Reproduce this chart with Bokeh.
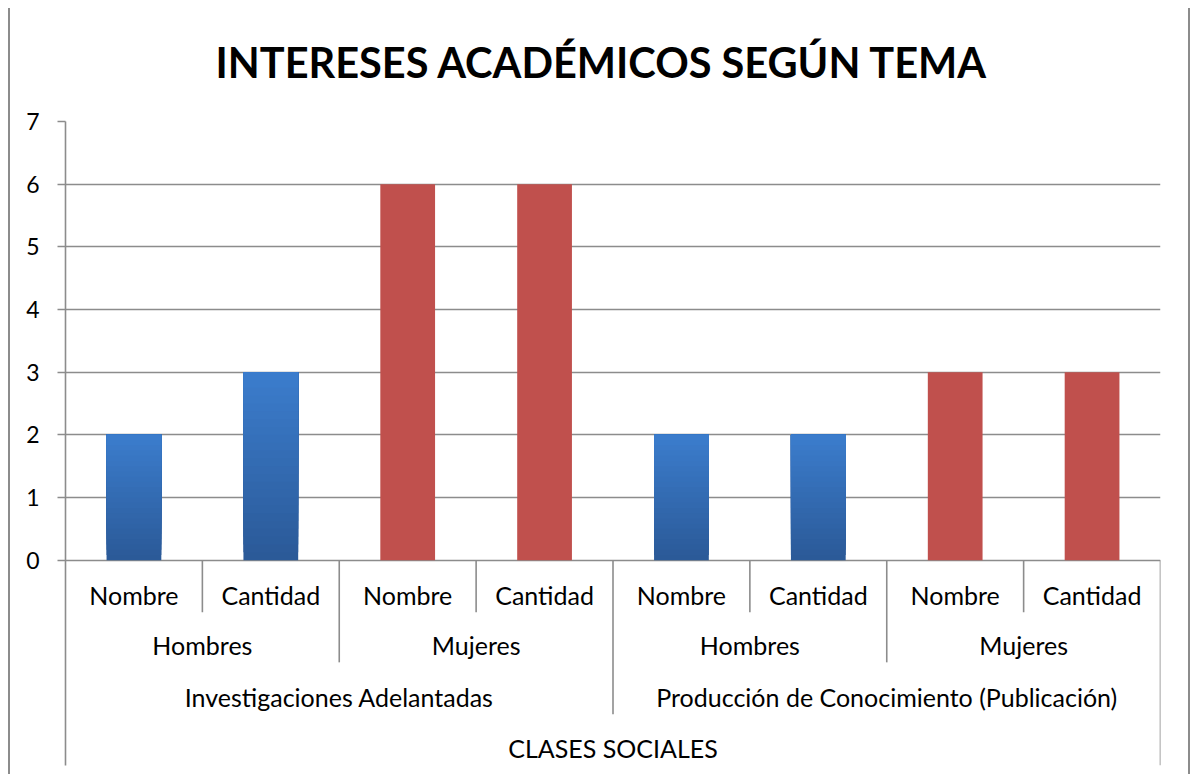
from bokeh.plotting import figure
from bokeh.models import FactorRange, Range1d, FixedTicker
from bokeh.core.properties import value
from bokeh.embed import file_html
from bokeh.resources import INLINE

# ---- data ----
title_text = "INTERESES ACADÉMICOS SEGÚN TEMA"
axis_title = "CLASES SOCIALES"
topics = ["Investigaciones Adelantadas", "Producción de Conocimiento (Publicación)"]
genders = ["Hombres", "Mujeres"]
fields = ["Nombre", "Cantidad"]
values = [2, 3, 6, 6, 2, 2, 3, 3]
y_ticks = [0, 1, 2, 3, 4, 5, 6, 7]

# ---- styles ----
FONT = "Lato"
GRID = "#8c8c8c"
RED = "#c0504d"
BLUE_TOP = (59, 124, 204)
BLUE_BOT = (43, 90, 152)
gender_color = {"Hombres": "blue", "Mujeres": RED}

factors = [(t, g, f) for t in topics for g in genders for f in fields]
n = len(factors)

x_range = FactorRange(factors=factors, factor_padding=0, subgroup_padding=0,
                      group_padding=0, range_padding=0)
y_bottom = -3.276
y_range = Range1d(y_bottom, 7.0)

W, H = 1178, 774
p = figure(x_range=x_range, y_range=y_range, width=W, height=H,
           output_backend="svg", toolbar_location=None,
           min_border_left=55, min_border_right=28, min_border_bottom=9,
           min_border_top=22)
# outer chart frame: a thin ring drawn just outside the chart box
p.styles = {"margin-left": "10px", "margin-top": "0px",
            "box-shadow": "0 10px 0 0 #ffffff, 0 10px 0 2px #8c8c8c"}
p.outline_line_color = None
p.background_fill_color = "white"
p.border_fill_color = "white"

# title
p.title.text = title_text
p.title.align = "left"
p.title.offset = 150
p.title.text_font = FONT
p.title.text_font_style = "bold"
p.title.text_font_size = "41.5px"
p.title.text_color = "black"
p.title.standoff = 69

# axes
p.xaxis.visible = False
p.xgrid.visible = False
yax = p.yaxis[0]
yax.ticker = FixedTicker(ticks=y_ticks)
yax.axis_line_color = GRID
yax.axis_line_width = 1.6
yax.major_tick_line_color = GRID
yax.major_tick_line_width = 1.6
yax.major_tick_out = 8
yax.major_tick_in = 0
yax.minor_tick_line_color = None
yax.major_label_text_font = FONT
yax.major_label_text_font_size = "23px"
yax.major_label_text_color = "black"
yax.major_label_standoff = 18
p.ygrid.ticker = FixedTicker(ticks=y_ticks)
p.ygrid.grid_line_color = GRID
p.ygrid.grid_line_width = 1.6

# bars
red_x = [f for f, v in zip(factors, values) if gender_color[f[1]] != "blue"]
red_v = [v for f, v in zip(factors, values) if gender_color[f[1]] != "blue"]
blue_x = [f for f, v in zip(factors, values) if gender_color[f[1]] == "blue"]
blue_v = [v for f, v in zip(factors, values) if gender_color[f[1]] == "blue"]

BAR_W = 0.40
p.vbar(x=red_x, top=red_v, bottom=0, width=BAR_W, fill_color=RED, line_color=None)

NSTEP = 24
for k in range(NSTEP):
    t = k / (NSTEP - 1)
    c = tuple(int(round(BLUE_BOT[i] + (BLUE_TOP[i] - BLUE_BOT[i]) * t)) for i in range(3))
    col = "#%02x%02x%02x" % c
    p.vbar(x=blue_x, top=blue_v, bottom=[v * k / NSTEP for v in blue_v],
           width=BAR_W, fill_color=col, line_color=None)

# category separators (derived from factor structure)
levels = len(factors[0])
sep_x, sep_y1 = [], []
sep_bottoms = {3: -2.46, 2: -1.63, 1: -0.83}
for i in range(1, n):
    a, b = factors[i - 1], factors[i]
    d = next(j for j in range(levels) if a[j] != b[j])
    depth = levels - d
    sep_x.append(float(i))
    sep_y1.append(sep_bottoms[depth])
sep_x.append(float(n))
sep_y1.append(y_bottom)
p.segment(x0=sep_x, y0=[0] * len(sep_x), x1=sep_x, y1=sep_y1,
          line_color=GRID, line_width=1.6)

# category labels
lab_kw = dict(text_font=value(FONT), text_font_size="25px", text_color="black",
              text_align="center", text_baseline="middle")
p.text(x=factors, y=[-0.56] * n, text=[f[2] for f in factors], **lab_kw)
mid = [(t, g) for t in topics for g in genders]
p.text(x=mid, y=[-1.36] * len(mid), text=[m[1] for m in mid], **lab_kw)
p.text(x=topics, y=[-2.19] * len(topics), text=topics, **lab_kw)
p.text(x=[n / 2], y=[-2.99], text=[axis_title], **lab_kw)

open("out.html", "w").write(file_html(p, INLINE))
